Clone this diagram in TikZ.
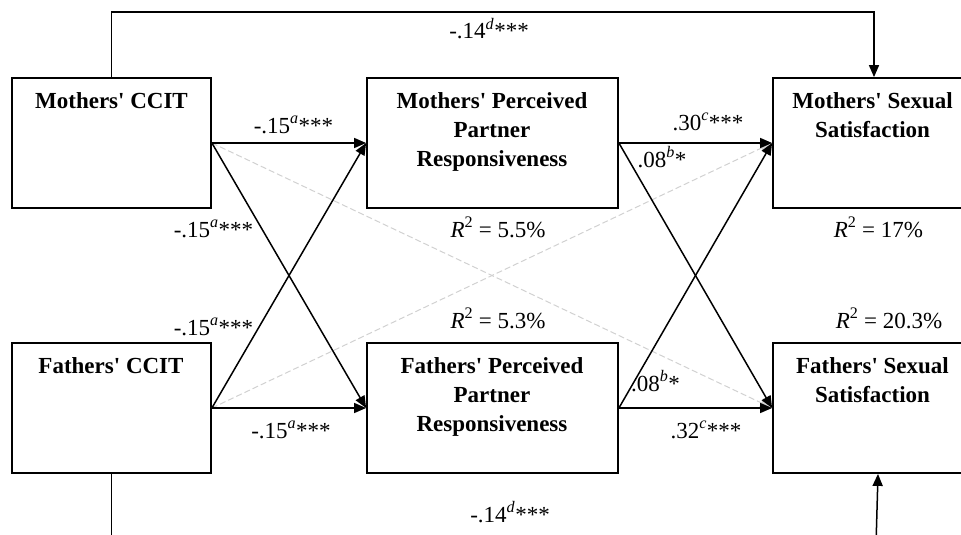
\documentclass[tikz,border=0pt]{standalone}
\usepackage{fontspec}
\setmainfont{Liberation Serif}[Ligatures=TeXOff]
\usetikzlibrary{arrows.meta}
\begin{document}
\begin{tikzpicture}[x=1pt,y=-1pt,
  box/.style={draw, line width=1.8pt, minimum width=199pt, minimum height=130pt, inner sep=0pt},
  wbox/.style={box, minimum width=251pt},
  ttl/.style={font=\fontsize{23}{29}\selectfont\bfseries, align=center, inner sep=0pt, anchor=north},
  lbl/.style={font=\fontsize{23}{29}\selectfont, inner sep=0pt, anchor=base},
  conn/.style={line width=1.5pt, -{Triangle[length=12pt,width=10pt]}},
  gconn/.style={line width=1pt, draw=black!18, dash pattern=on 6pt off 3pt, -{Triangle[length=12pt,width=10pt,fill=black!18]}},
  plain/.style={line width=1.5pt}]
\useasboundingbox (0,0) rectangle (961,535);
\clip (0,0) rectangle (961,535);
% boxes
\node[box] (mc) at (111.5,143) {};
\node[wbox] (mp) at (492.5,143) {};
\node[box, minimum width=200pt] (ms) at (873,143) {};
\node[box] (fc) at (111.5,408) {};
\node[wbox] (fp) at (492.5,408) {};
\node[box, minimum width=200pt] (fs) at (873,408) {};
% titles
\node[ttl] (mct) at (111.5,92) {Mothers' CCIT};
\node[ttl] (mpt) at (492,92) {Mothers' Perceived\\Partner\\Responsiveness};
\node[ttl] (mst) at (872.5,92) {Mothers' Sexual\\Satisfaction};
\node[ttl] (fct) at (111,357) {Fathers' CCIT};
\node[ttl] (fpt) at (492,357) {Fathers' Perceived\\Partner\\Responsiveness};
\node[ttl] (fst) at (872.5,357) {Fathers' Sexual\\Satisfaction};
% named free ends
\coordinate (topy) at (0,12);
\coordinate (boty) at (0,545);
\coordinate (brs) at (876,545);
% grey dashed paths
\draw[gconn] (mc.east) -- (fs.west);
\draw[gconn] (fc.east) -- (ms.west);
% black paths
\draw[conn] (mc.east) -- (mp.west);
\draw[conn] (mc.east) -- (fp.west);
\draw[conn] (fc.east) -- (mp.west);
\draw[conn] (fc.east) -- (fp.west);
\draw[conn] (mp.east) -- (ms.west);
\draw[conn] (mp.east) -- (fs.west);
\draw[conn] (fp.east) -- (ms.west);
\draw[conn] (fp.east) -- (fs.west);
\draw[conn] (mc.north) -- (mc.north |- topy) -| ([xshift=1pt]ms.north);
\draw[plain] (fc.south) -- (fc.south |- boty);
\draw[conn] (brs) -- ([xshift=5pt]fs.south);
% labels
\node[lbl] (l1) at (489,39) {-.14\textsuperscript{\textit{d}}***};
\node[lbl] (l2) at (293.5,133) {-.15\textsuperscript{\textit{a}}***};
\node[lbl] (l3) at (213.5,237) {-.15\textsuperscript{\textit{a}}***};
\node[lbl] (l4) at (498,237) {\textit{R}\textsuperscript{2} = 5.5\%};
\node[lbl] (l5) at (708,130) {.30\textsuperscript{\textit{c}}***};
\node[lbl] (l6) at (662,167) {.08\textsuperscript{\textit{b}}*};
\node[lbl] (l7) at (878.5,237) {\textit{R}\textsuperscript{2} = 17\%};
\node[lbl] (l8) at (213.5,335) {-.15\textsuperscript{\textit{a}}***};
\node[lbl] (l9) at (498,328) {\textit{R}\textsuperscript{2} = 5.3\%};
\node[lbl] (l10) at (889,328) {\textit{R}\textsuperscript{2} = 20.3\%};
\node[lbl] (l11) at (655.5,391) {.08\textsuperscript{\textit{b}}*};
\node[lbl] (l12) at (291,438) {-.15\textsuperscript{\textit{a}}***};
\node[lbl] (l13) at (706,438) {.32\textsuperscript{\textit{c}}***};
\node[lbl] (l14) at (510,522) {-.14\textsuperscript{\textit{d}}***};
\end{tikzpicture}
\end{document}
